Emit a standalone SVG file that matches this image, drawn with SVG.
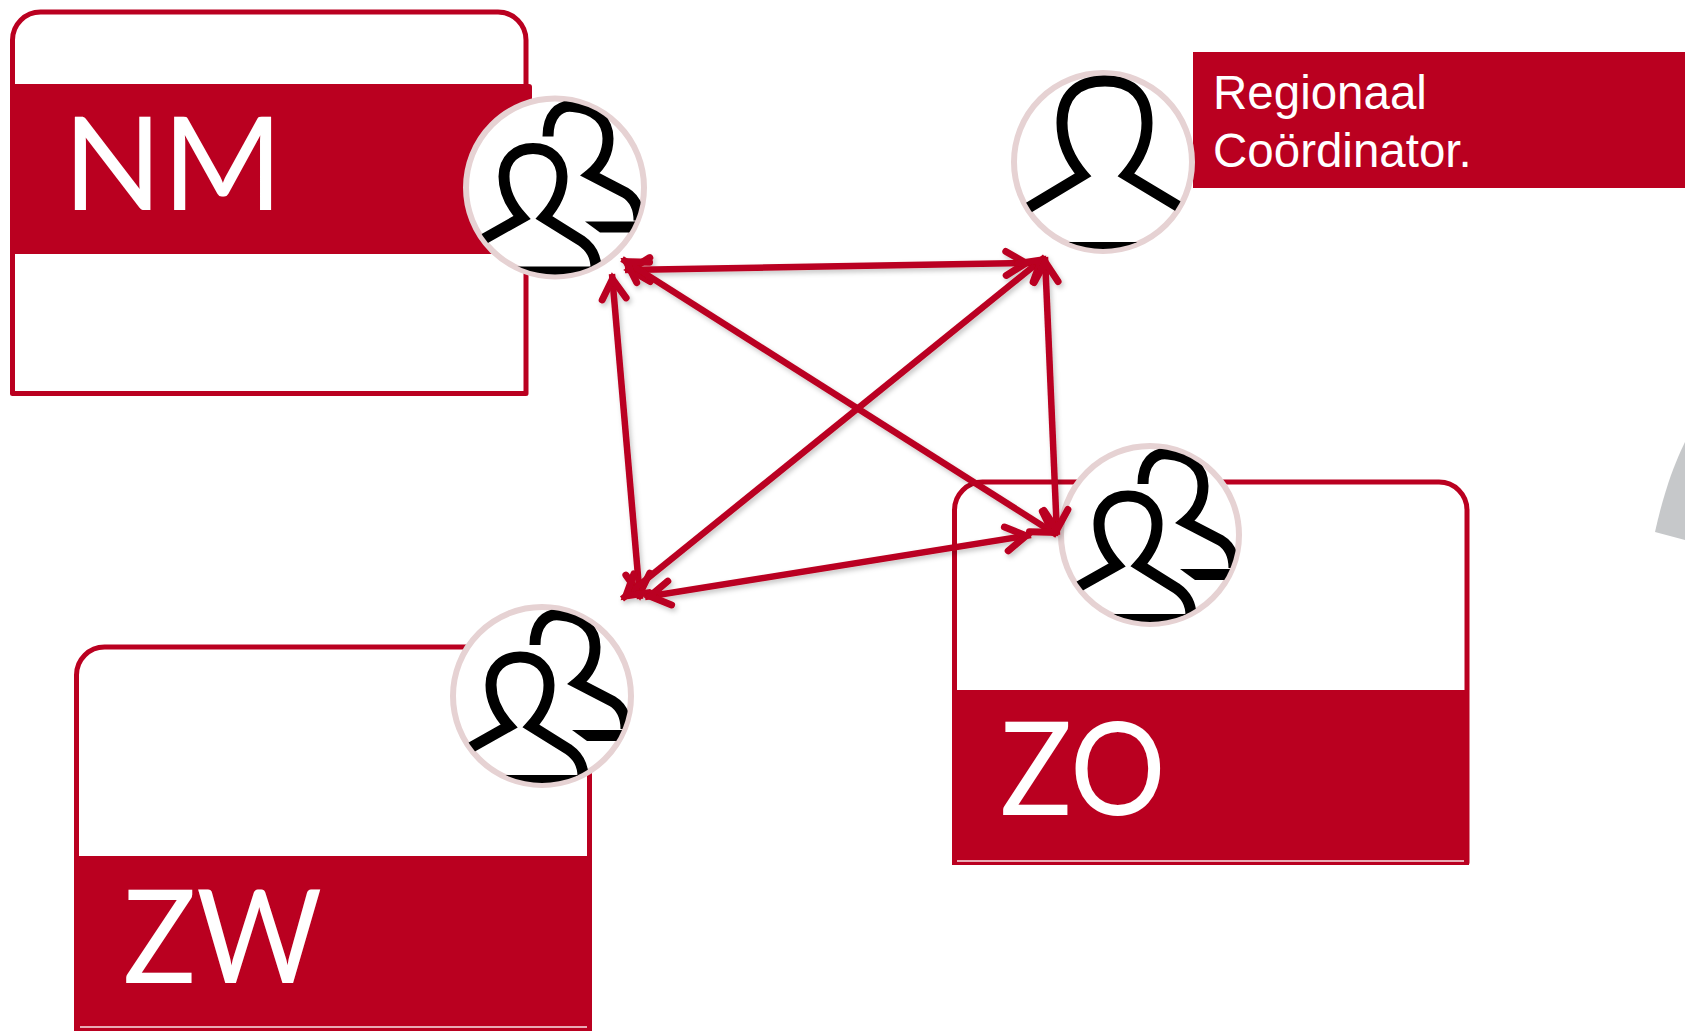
<svg xmlns="http://www.w3.org/2000/svg" xmlns:xlink="http://www.w3.org/1999/xlink" width="1685" height="1031" viewBox="0 0 1685 1031">
<style>
.box{fill:#fff;stroke:#ba0020;stroke-width:5;stroke-linejoin:round}
.band{fill:#ba0020}
.big{font-family:Lato,"Liberation Sans",sans-serif;font-size:130px;fill:#fff}
.small{font-family:"Liberation Sans",Arial,sans-serif;font-size:47.500px;fill:#fff}
.ring{fill:#fff;stroke:#e6d2d3;stroke-width:6}
.ink{fill:none;stroke:#000;stroke-width:11;stroke-linejoin:miter;stroke-miterlimit:6}
.link{fill:none;stroke:#ba0020;stroke-width:6.500;marker-start:url(#head);marker-end:url(#head)}
.hair{fill:none;stroke:#e9a9b4;stroke-width:2}
</style>
<defs>
<clipPath id="disc"><circle cx="0" cy="0" r="87"/></clipPath>
<marker id="head" markerUnits="userSpaceOnUse" viewBox="-34 -20 44 40" refX="0" refY="0" markerWidth="44" markerHeight="40" orient="auto-start-reverse" overflow="visible">
<path d="M-25,-12 L-5,0 L-25,12" fill="none" stroke="#ba0020" stroke-width="7" stroke-linecap="round" stroke-linejoin="miter"/>
</marker>
<filter id="soft" x="-10%" y="-10%" width="120%" height="120%"><feDropShadow dx="2" dy="3" stdDeviation="2.500" flood-color="#000" flood-opacity=".22"/></filter>
<g id="one">
<circle class="ring" r="89"/>
<g clip-path="url(#disc)">
<path class="ink" d="M-75,46 L-20,13 C-32,-1 -41,-17 -41,-39 C-41,-66 -26,-81 2,-81 C30,-81 44,-66 44,-39 C44,-17 35,-1 23,13 L78,46"/>
<rect x="-60" y="80" width="120" height="12" fill="#000"/>
</g>
</g>
<g id="two">
<circle class="ring" r="89"/>
<g clip-path="url(#disc)">
<path class="ink" d="M-72,52 L-33,30 C-44,18 -51,4 -51,-11 C-51,-28 -39,-39 -22,-39 C-5,-39 7,-28 7,-11 C7,4 0,18 -11,30 L26,53 C36,60 41,68 41,81"/>
<path class="ink" d="M-7,-51 C-7,-72 4,-83 18,-81 C40,-79 53,-67 53,-49 C53,-34 46,-22 35,-13 L70,5 C80,11 84,20 84,33"/>
<polygon points="30,34 90,34 75,45 45,45" fill="#000"/>
<rect x="-60" y="79" width="120" height="12" fill="#000"/>
</g>
</g>
</defs>

<path d="M1655,532 C1662,500 1672,468 1685,442 L1685,540 Z" fill="#c6c8ca"/>

<g id="node-nm">
<path class="box" d="M12.500,393.500 V40 A28,28 0 0 1 40.500,12 H498 A28,28 0 0 1 526,40 V393.500 Z"/>
<path class="band" d="M12,84 H529 Q532,84 532,87 V254 H12 Z"/>
<text class="big" transform="translate(63 210) scale(1 1)">NM</text>
<use xlink:href="#two" href="#two" x="555" y="187.500"/>
</g>

<g id="node-coordinator">
<rect class="band" x="1193" y="52" width="492" height="136"/>
<text class="small" x="1213" y="109">Regionaal</text>
<text class="small" x="1213" y="167">Coördinator.</text>
<use xlink:href="#one" href="#one" x="1103" y="162"/>
</g>

<g id="node-zo">
<path class="box" d="M954.500,862.500 V510 A28,28 0 0 1 982.500,482 H1439 A28,28 0 0 1 1467,510 V862.500 Z"/>
<rect class="band" x="952" y="690" width="517" height="175"/>
<path class="hair" d="M957,861 H1464"/>
<text class="big" transform="translate(1000 815) scale(.92 1)">ZO</text>
<use xlink:href="#two" href="#two" x="1150" y="535"/>
</g>

<g id="node-zw">
<path class="box" d="M76.500,1031 V675 A28,28 0 0 1 104.500,647 H561 A28,28 0 0 1 589.500,675 V1031"/>
<rect class="band" x="74" y="856" width="518" height="175"/>
<path class="hair" d="M80,1027 H587"/>
<text class="big" transform="translate(123 983) scale(.935 1)">ZW</text>
<use xlink:href="#two" href="#two" x="542" y="696"/>
</g>

<g id="connectors" filter="url(#soft)">
<line class="link" x1="625" y1="270" x2="1031" y2="263"/>
<line class="link" x1="622" y1="259" x2="1057" y2="535"/>
<line class="link" x1="612" y1="274" x2="640" y2="599"/>
<line class="link" x1="1045" y1="257" x2="622" y2="599"/>
<line class="link" x1="1045" y1="257" x2="1057" y2="535"/>
<line class="link" x1="645" y1="597" x2="1031" y2="535"/>
</g>
</svg>
